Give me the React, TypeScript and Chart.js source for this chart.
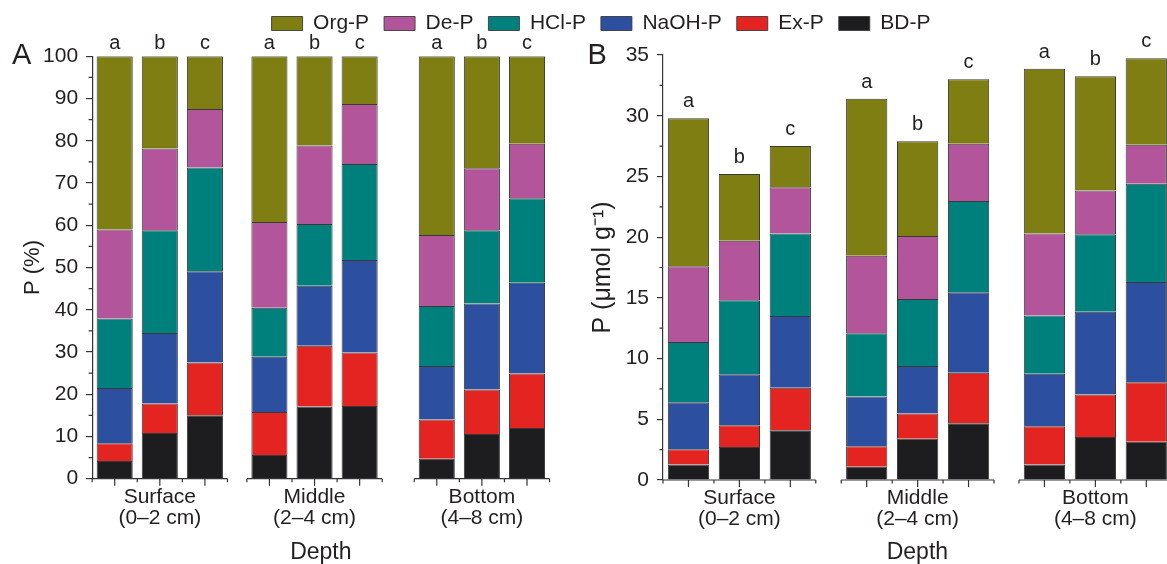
import React, { useEffect, useRef } from 'react';
import { Chart, registerables } from 'chart.js';

Chart.register(...registerables);

const FONT = '"Liberation Sans", Arial, Helvetica, sans-serif';
const TEXT = '#231f20';
const AXIS = '#333333';

// Legend order (top of stack first)
const SERIES = ['Org-P', 'De-P', 'HCl-P', 'NaOH-P', 'Ex-P', 'BD-P'];
const COLORS = ['#7f7e12', '#b3559a', '#00807c', '#2c4f9f', '#e42421', '#1d1d20'];
const DEPTHS = [
  ['Surface', '(0–2 cm)'],
  ['Middle', '(2–4 cm)'],
  ['Bottom', '(4–8 cm)'],
];
const LETTERS = ['a', 'b', 'c'];

// Panel A: P (%) — bars: Surface a,b,c | Middle a,b,c | Bottom a,b,c
const A_ORG = [41.0, 21.8, 12.5, 39.2, 21.1, 11.3, 42.3, 26.5, 20.7];
const A_DE = [21.1, 19.4, 13.8, 20.3, 18.6, 14.2, 16.8, 14.7, 12.9];
const A_HCL = [16.4, 24.3, 24.6, 11.6, 14.6, 22.7, 14.2, 17.3, 20.0];
const A_NAOH = [13.1, 16.7, 21.6, 13.1, 14.2, 21.9, 12.7, 20.4, 21.5];
const A_EX = [4.2, 7.0, 12.5, 10.2, 14.4, 12.7, 9.3, 10.5, 12.9];
const A_BD = [4.2, 10.8, 15.0, 5.6, 17.1, 17.2, 4.7, 10.6, 12.0];

// Panel B: P (µmol g-1)
const B_ORG = [12.2, 5.5, 3.4, 12.93, 7.8, 5.3, 13.56, 9.41, 7.14];
const B_DE = [6.23, 4.9, 3.8, 6.39, 5.2, 4.72, 6.76, 3.61, 3.2];
const B_HCL = [4.96, 6.1, 6.8, 5.2, 5.51, 7.51, 4.79, 6.38, 8.1];
const B_NAOH = [3.88, 4.2, 5.9, 4.1, 3.91, 6.63, 4.32, 6.8, 8.26];
const B_EX = [1.26, 1.78, 3.5, 1.68, 2.09, 4.16, 3.16, 3.5, 4.9];
const B_BD = [1.27, 2.72, 4.1, 1.1, 3.39, 4.68, 1.27, 3.55, 3.14];

const A_TICKS = { min: 0, max: 100, step: 10 };
const B_TICKS = { min: 0, max: 35, step: 5 };

// layout: start of each depth group on the bar axis (in bar-pitch units)
const GROUP_START_A = [0, 3.43, 7.14];
const GROUP_START_B = [0, 3.5, 6.99];

const decorPlugin = {
  id: 'decor',
  afterDraw(chart: any, _args: any, opts: any) {
    const { ctx } = chart;
    const xs = chart.scales.x;
    const ys = chart.scales.y;
    const base = ys.getPixelForValue(0);
    const n = LETTERS.length;
    ctx.save();
    ctx.strokeStyle = AXIS;
    ctx.lineWidth = 1.2;
    // x-axis segments with ticks
    opts.groups.forEach((g0: number) => {
      const l = xs.getPixelForValue(g0 - 0.5);
      const r = xs.getPixelForValue(g0 + n - 0.5);
      ctx.beginPath();
      ctx.moveTo(l, base);
      ctx.lineTo(r, base);
      for (let k = 0; k <= n; k++) {
        const px = xs.getPixelForValue(g0 - 0.5 + k);
        ctx.moveTo(px, base);
        ctx.lineTo(px, base + 3.5);
      }
      for (let k = 0; k < n; k++) {
        const px = xs.getPixelForValue(g0 + k);
        ctx.moveTo(px, base);
        ctx.lineTo(px, base + 7);
      }
      ctx.stroke();
    });
    // minor y ticks
    const ax = chart.chartArea.left;
    ctx.beginPath();
    for (let v = opts.min + opts.step / 2; v < opts.max; v += opts.step) {
      const py = ys.getPixelForValue(v);
      ctx.moveTo(ax, py);
      ctx.lineTo(ax - 3.5, py);
    }
    ctx.stroke();
    // significance letters
    ctx.fillStyle = TEXT;
    ctx.font = `20px ${FONT}`;
    ctx.textAlign = 'center';
    ctx.textBaseline = 'alphabetic';
    opts.groups.forEach((g0: number, gi: number) => {
      LETTERS.forEach((letter, k) => {
        const idx = gi * n + k;
        const v = opts.fixedTop != null ? opts.fixedTop : opts.totals[idx];
        ctx.fillText(letter, xs.getPixelForValue(g0 + k), ys.getPixelForValue(v) - opts.letterGap);
      });
    });
    // panel label
    ctx.font = `29px ${FONT}`;
    ctx.textAlign = 'left';
    ctx.fillText(opts.label, opts.labelX, 64);
    ctx.restore();
  },
};

function buildChart(
  canvas: HTMLCanvasElement,
  cfg: {
    values: number[][];
    groups: number[];
    ticks: { min: number; max: number; step: number };
    yTitle: string;
    yTitleSize: number;
    yWidth: number;
    yTitlePad: number;
    xHeight: number;
    padTop: number;
    padRight: number;
    barPct: number;
    label: string;
    labelX: number;
    fixedTop: number | null;
    letterGap: number;
  }
) {
  const n = LETTERS.length;
  const xPos: number[] = [];
  cfg.groups.forEach((g0) => {
    for (let k = 0; k < n; k++) xPos.push(g0 + k);
  });
  const totals = xPos.map((_, i) => cfg.values.reduce((s, arr) => s + arr[i], 0));
  const datasets = cfg.values
    .map((arr, si) => ({
      label: SERIES[si],
      data: arr.map((v, i) => ({ x: xPos[i], y: v })),
      backgroundColor: COLORS[si],
      borderColor: 'rgba(35,35,35,0.9)',
      borderWidth: 1,
      barPercentage: cfg.barPct,
      categoryPercentage: 1,
    }))
    .reverse();

  return new Chart(canvas, {
    type: 'bar',
    data: { datasets } as any,
    plugins: [decorPlugin as any],
    options: {
      animation: false,
      responsive: false,
      events: [],
      layout: { padding: { top: cfg.padTop, right: cfg.padRight, left: 0, bottom: 0 } },
      scales: {
        x: {
          type: 'linear',
          offset: false,
          min: -0.5,
          max: cfg.groups[cfg.groups.length - 1] + n - 0.5,
          stacked: true,
          grid: { display: false, drawTicks: false, offset: false },
          border: { display: false },
          afterBuildTicks: (scale: any) => {
            scale.ticks = cfg.groups.map((g0) => ({ value: g0 + (n - 1) / 2 }));
          },
          afterFit: (scale: any) => {
            scale.height = cfg.xHeight;
          },
          ticks: {
            autoSkip: false,
            maxRotation: 0,
            minRotation: 0,
            padding: 8,
            color: TEXT,
            font: { family: FONT, size: 21, lineHeight: 1.0 },
            callback: (_v: any, i: number) => DEPTHS[i],
          },
          title: {
            display: true,
            text: 'Depth',
            color: TEXT,
            font: { family: FONT, size: 23, lineHeight: 1 },
            padding: { top: 0, bottom: 0 },
          },
        },
        y: {
          type: 'linear',
          min: cfg.ticks.min,
          max: cfg.ticks.max,
          stacked: true,
          afterFit: (scale: any) => {
            scale.width = cfg.yWidth;
          },
          grid: {
            display: true,
            drawOnChartArea: false,
            drawTicks: true,
            tickLength: 6,
            color: AXIS,
            lineWidth: 1.2,
          },
          border: { display: true, color: AXIS, width: 1.2 },
          ticks: {
            stepSize: cfg.ticks.step,
            padding: 8,
            color: TEXT,
            font: { family: FONT, size: 21 },
          },
          title: {
            display: true,
            text: cfg.yTitle,
            color: TEXT,
            font: { family: FONT, size: cfg.yTitleSize, lineHeight: 1 },
            padding: { top: cfg.yTitlePad, bottom: 0 },
          },
        },
      },
      plugins: {
        legend: { display: false },
        tooltip: { enabled: false },
        decor: {
          groups: cfg.groups,
          totals,
          min: cfg.ticks.min,
          max: cfg.ticks.max,
          step: cfg.ticks.step,
          label: cfg.label,
          labelX: cfg.labelX,
          fixedTop: cfg.fixedTop,
          letterGap: cfg.letterGap,
        },
      } as any,
    },
  } as any);
}

export default function App() {
  const legendRef = useRef<HTMLCanvasElement>(null);
  const aRef = useRef<HTMLCanvasElement>(null);
  const bRef = useRef<HTMLCanvasElement>(null);

  useEffect(() => {
    const legend = new Chart(legendRef.current as HTMLCanvasElement, {
      type: 'bar',
      data: {
        labels: [],
        datasets: SERIES.map((s, i) => ({
          label: s,
          data: [],
          backgroundColor: COLORS[i],
          borderColor: 'rgba(60,60,60,0.9)',
          borderWidth: 1,
        })),
      },
      options: {
        animation: false,
        responsive: false,
        events: [],
        layout: { padding: { left: 35 } },
        scales: { x: { display: false }, y: { display: false } },
        plugins: {
          tooltip: { enabled: false },
          legend: {
            display: true,
            position: 'top',
            labels: {
              boxWidth: 31,
              boxHeight: 14,
              padding: 15,
              color: TEXT,
              font: { family: FONT, size: 21 },
            },
          },
        },
      },
    } as any);

    const chartA = buildChart(aRef.current as HTMLCanvasElement, {
      values: [A_ORG, A_DE, A_HCL, A_NAOH, A_EX, A_BD],
      groups: GROUP_START_A,
      ticks: A_TICKS,
      yTitle: 'P (%)',
      yTitleSize: 22,
      yWidth: 92.15,
      yTitlePad: 22,
      xHeight: 564 - 478.7,
      padTop: 56.3,
      padRight: 575 - 549.55,
      barPct: 0.8,
      label: 'A',
      labelX: 12,
      fixedTop: 100,
      letterGap: 7,
    });

    const chartB = buildChart(bRef.current as HTMLCanvasElement, {
      values: [B_ORG, B_DE, B_HCL, B_NAOH, B_EX, B_BD],
      groups: GROUP_START_B,
      ticks: B_TICKS,
      yTitle: 'P (μmol g⁻¹)',
      yTitleSize: 25,
      yWidth: 103,
      yTitlePad: 30.5,
      xHeight: 564 - 480,
      padTop: 55,
      padRight: 620 - 611.75,
      barPct: 0.81,
      label: 'B',
      labelX: 27.5,
      fixedTop: null,
      letterGap: 11,
    });

    return () => {
      legend.destroy();
      chartA.destroy();
      chartB.destroy();
    };
  }, []);

  return (
    <div
      style={{
        position: 'absolute',
        left: 0,
        top: 0,
        width: 1167,
        height: 564,
        overflow: 'hidden',
        background: '#ffffff',
      }}
    >
      <canvas
        ref={aRef}
        width={575}
        height={564}
        style={{ position: 'absolute', left: 0, top: 0, width: 575, height: 564 }}
      />
      <canvas
        ref={bRef}
        width={620}
        height={564}
        style={{ position: 'absolute', left: 560, top: 0, width: 620, height: 564 }}
      />
      <canvas
        ref={legendRef}
        width={1167}
        height={130}
        style={{ position: 'absolute', left: 0, top: -2, width: 1167, height: 130 }}
      />
    </div>
  );
}
